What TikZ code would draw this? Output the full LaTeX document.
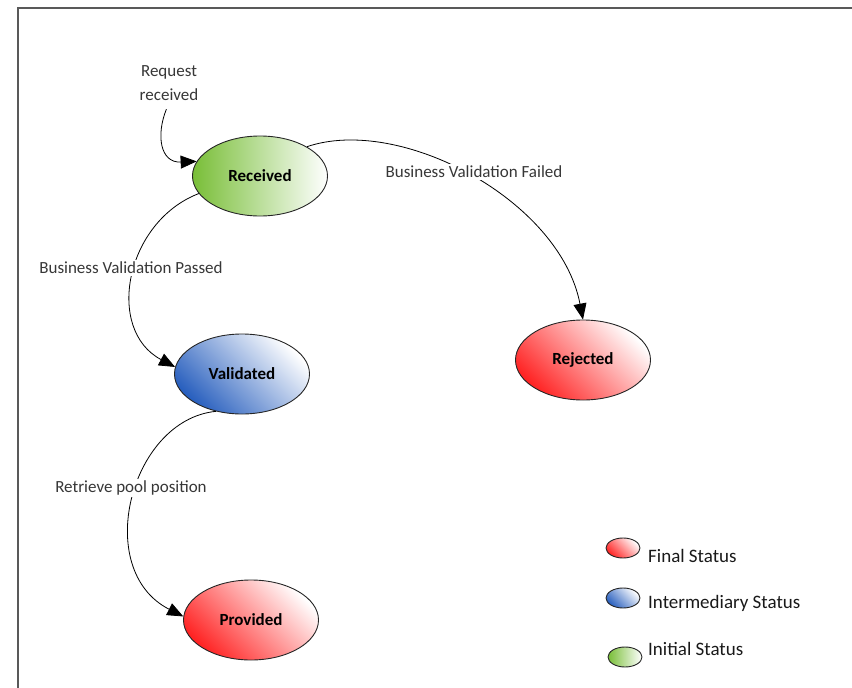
\documentclass[tikz,border=0pt]{standalone}
\usepackage{fontspec}
\setmainfont{Carlito}
\usetikzlibrary{shapes.geometric,arrows.meta}
\definecolor{grn}{RGB}{120,190,55}
\definecolor{blu}{RGB}{40,95,190}
\definecolor{rd}{RGB}{255,35,35}
\definecolor{lbltext}{RGB}{55,55,55}
\begin{document}
\begin{tikzpicture}[x=1pt,y=-1pt,
  state/.style={ellipse, draw=black!85, line width=0.9pt, minimum width=135pt, minimum height=80pt, inner sep=0pt,
    font=\fontsize{17}{20}\selectfont\bfseries, text=black},
  legstate/.style={ellipse, draw=black!85, line width=0.9pt, minimum width=34pt, minimum height=20pt, inner sep=0pt},
  initst/.style={left color=grn, middle color=grn!40, right color=white},
  midst/.style={bottom color=blu, middle color=blu!22, top color=white, shading angle=-45},
  finst/.style={bottom color=rd, middle color=rd!18, top color=white, shading angle=-45},
  lbl/.style={fill=white, inner sep=2pt, text=lbltext, font=\fontsize{17}{24}\selectfont},
  legtext/.style={anchor=west, inner sep=0pt, text=black!90, font=\fontsize{19}{22}\selectfont},
  arr/.style={line width=0.8pt, -{Triangle[length=16pt,width=13pt]}}
]
\useasboundingbox (0,0) rectangle (852,688);
\draw[gray!70!black, line width=1.6pt] (852,8) -- (18,8) -- (18,688);

% states
\node[state, initst] (rec) at (260,176) {Received};
\node[state, midst]  (val) at (242,374) {Validated};
\node[state, finst]  (rej) at (583,360) {Rejected};
\node[state, finst]  (pro) at (251,620) {Provided};

% incoming label
\node[lbl, align=center] (req) at (169,83) {Request\\received};

% connectors
\draw[arr, shorten <=7pt] (req.south) .. controls (156,135) and (160,163) .. (rec.167);
\draw[arr] (rec.32) .. controls (400,115) and (560,200) .. (rej.north);
\draw[arr] (rec.196) .. controls (125,222) and (105,330) .. (val.174);
\draw[arr] (val.235) .. controls (130,420) and (92,570) .. (pro.177);

% edge labels
\node[lbl] (lfail) at (474,172) {Business Validation Failed};
\node[lbl] (lpass) at (131,268) {Business Validation Passed};
\node[lbl] (lret)  at (131,488) {Retrieve pool position};

% legend
\node[legstate, finst]  (lgf) at (623,548) {};
\node[legstate, midst]  (lgm) at (623,598) {};
\node[legstate, initst] (lgi) at (625,657) {};
\node[legtext] (lgft) at (648,556) {Final Status};
\node[legtext] (lgmt) at (648,603) {Intermediary Status};
\node[legtext] (lgit) at (648,649) {Initial Status};
\end{tikzpicture}
\end{document}
